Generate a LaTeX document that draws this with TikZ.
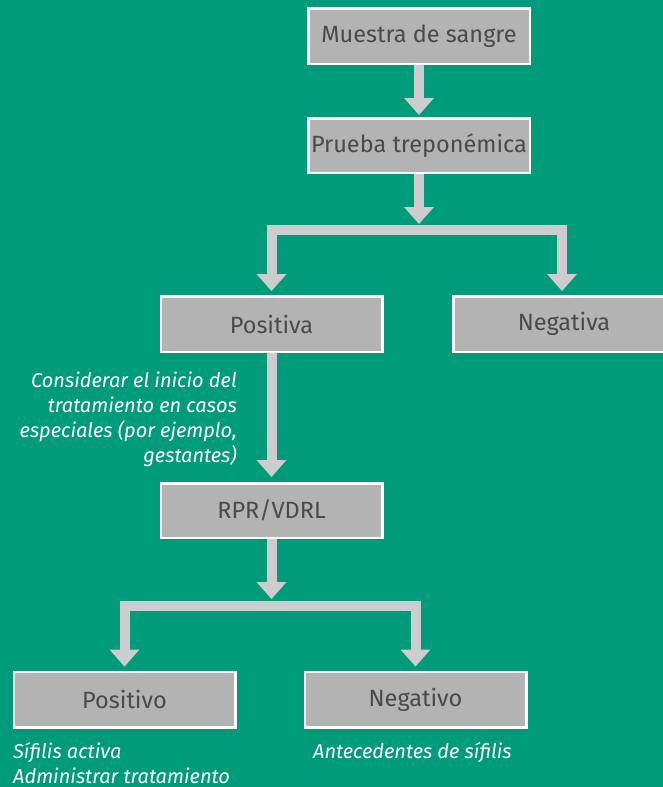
\documentclass[tikz,border=0pt]{standalone}
\usepackage{fontspec}
\setmainfont{Fira Sans}
\usetikzlibrary{arrows.meta}
\definecolor{bg}{RGB}{0,155,122}
\definecolor{boxgray}{RGB}{179,179,179}
\definecolor{arrgray}{RGB}{205,205,205}
\definecolor{txtgray}{RGB}{74,74,74}
\begin{document}
\begin{tikzpicture}[x=1pt,y=-1pt,
  box/.style={draw=white, line width=2.5pt, fill=boxgray, text=txtgray,
    minimum width=221.5pt, minimum height=55.5pt, inner sep=0pt,
    font=\fontsize{23.5}{27}\selectfont},
  flow/.style={draw=arrgray, line width=10pt, line join=miter,
    -{Triangle[width=30pt 0, length=17pt 0, line width=0pt]}},
  note/.style={text=white, inner sep=0pt, font=\fontsize{20}{25}\selectfont\itshape}]
\useasboundingbox (0,0) rectangle (663,787);
\clip (0,0) rectangle (663,787);
\fill[bg] (0,0) rectangle (663,787);

\node[box] (muestra) at (419,36) {Muestra de sangre};
\node[box, minimum height=54.5pt] (trepo) at (419,145.5) {Prueba treponémica};
\node[box] (positiva) at (271.5,324) {Positiva};
\node[box] (negativa) at (564,324) {Negativa};
\node[box, minimum height=54.5pt] (rpr) at (271.5,510.5) {RPR/VDRL};
\node[box] (positivo) at (124.5,699.5) {Positivo};
\node[box] (negativo) at (415.5,699.5) {Negativo};

\coordinate (j1) at (418,229.5);
\coordinate (bar1) at (418,224);
\coordinate (j2) at (271.5,605.5);
\coordinate (bar2) at (271.5,599);

\draw[flow, shorten >=2pt] (muestra.south) -- (trepo.north);
\draw[flow] (trepo.south) -- (trepo.south |- bar1);
\draw[flow, shorten >=4pt] (j1) -| ([xshift=-2pt]negativa.north);
\draw[flow, shorten >=4pt] (j1) -| (positiva.north);
\draw[flow, shorten >=5pt] (positiva.south) -- (rpr.north);
\draw[flow] (rpr.south) -- (bar2);
\draw[flow, shorten >=4pt] (j2) -| (positivo.north);
\draw[flow, shorten >=4pt] (j2) -| (negativo.north);

\node[note, anchor=base east] (c1) at (237,387) {Considerar el inicio del};
\node[note, anchor=base east] (c2) at (237,412) {tratamiento en casos};
\node[note, anchor=base east] (c3) at (237,437) {especiales (por ejemplo,};
\node[note, anchor=base east] (c4) at (237,462) {gestantes)};
\node[note, anchor=base west] (s1) at (13,758) {Sífilis activa};
\node[note, anchor=base west] (s2) at (13,783) {Administrar tratamiento};
\node[note, anchor=base west] (a1) at (313,758) {Antecedentes de sífilis};
\end{tikzpicture}
\end{document}
